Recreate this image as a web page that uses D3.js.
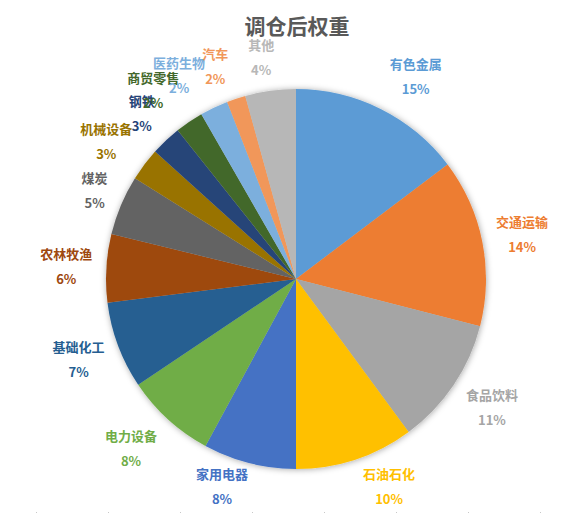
<!DOCTYPE html>
<html>
<head>
<meta charset="utf-8">
<script src="https://cdn.jsdelivr.net/npm/d3@7"></script>
<style>
  body { margin: 0; background: #fff; }
  text { font-family: "Noto Sans CJK SC", "Noto Sans", sans-serif; font-weight: bold; }
</style>
</head>
<body>
<div id="chart"></div>
<script>
// industry weights after rebalancing, clockwise from 12 o'clock
var categories = ["有色金属", "交通运输", "食品饮料", "石油石化", "家用电器", "电力设备", "基础化工",
                  "农林牧渔", "煤炭", "机械设备", "钢铁", "商贸零售", "医药生物", "汽车", "其他"];
var weights = [14.7, 14.3, 10.9, 10.1, 7.9, 7.7, 7.4, 5.8, 5.1, 2.8, 2.6, 2.4, 2.4, 1.6, 4.3];
var colors = ["#5B9BD5", "#ED7D31", "#A5A5A5", "#FFC000", "#4472C4", "#70AD47", "#255E91",
              "#9E480E", "#636363", "#997300", "#264478", "#43682B", "#7CAFDD", "#F1975A", "#B7B7B7"];

var width = 573, height = 514;
var cx = 296, cy = 279, radius = 190;

var svg = d3.select("#chart")
    .append("svg")
        .attr("width", width)
        .attr("height", height);

var defs = svg.append("defs");
var shadow = defs.append("filter")
    .attr("id", "pie-shadow")
    .attr("x", "-20%").attr("y", "-20%")
    .attr("width", "140%").attr("height", "140%");
shadow.append("feDropShadow")
    .attr("dx", 0.5).attr("dy", 0.5)
    .attr("stdDeviation", 3)
    .attr("flood-color", "#000")
    .attr("flood-opacity", 0.35);

// faint sheet gridline ticks at the bottom edge
svg.append("g")
    .selectAll("rect")
    .data(d3.range(36, width, 72))
    .enter()
    .append("rect")
        .attr("x", function(d){ return d; })
        .attr("y", height - 2)
        .attr("width", 1)
        .attr("height", 1)
        .attr("fill", "#c8c8c8");

svg.append("text")
    .attr("x", cx + 1)
    .attr("y", 25)
    .attr("text-anchor", "middle")
    .attr("dominant-baseline", "central")
    .attr("font-size", "21px")
    .attr("fill", "#595959")
    .text("调仓后权重");

var total = d3.sum(weights);
var data = categories.map(function(c, i){
    return { name: c, value: weights[i], color: colors[i] };
});

var pie = d3.pie()
    .sort(null)
    .value(function(d){ return d.value; })
    .startAngle(0)
    .endAngle(2 * Math.PI);

var arc = d3.arc()
    .innerRadius(0)
    .outerRadius(radius);

var arcs = pie(data);

var g = svg.append("g")
    .attr("transform", "translate(" + cx + "," + cy + ")");

g.append("g")
    .attr("filter", "url(#pie-shadow)")
    .selectAll("path")
    .data(arcs)
    .enter()
    .append("path")
        .attr("d", arc)
        .attr("fill", function(d){ return d.data.color; });

// labels sit just outside the rim, box pushed away from the pie
function clamp(v){ return Math.max(-1, Math.min(1, v)); }

var labelR = radius + 9,
    lineGap = 12.5,
    halfH = 24.5;

var labels = svg.append("g")
    .selectAll("g")
    .data(arcs)
    .enter()
    .append("g");

labels.append("text")
    .attr("class", "lbl-name")
    .attr("text-anchor", "middle")
    .attr("dominant-baseline", "central")
    .attr("font-size", "13px")
    .attr("fill", function(d){ return d.data.color; })
    .text(function(d){ return d.data.name; });

labels.append("text")
    .attr("class", "lbl-pct")
    .attr("text-anchor", "middle")
    .attr("dominant-baseline", "central")
    .attr("font-size", "13px")
    .attr("fill", function(d){ return d.data.color; })
    .text(function(d){ return Math.round(d.data.value / total * 100) + "%"; });

labels.each(function(d){
    var sel = d3.select(this);
    var w = Math.max(sel.select(".lbl-name").node().getComputedTextLength(),
                     sel.select(".lbl-pct").node().getComputedTextLength()) + 10;
    var a = (d.startAngle + d.endAngle) / 2;
    var px = cx + labelR * Math.sin(a),
        py = cy - labelR * Math.cos(a);
    var x = px + (w / 2) * clamp(3.3 * Math.sin(a)),
        y = py - halfH * clamp(1.2 * Math.cos(a));
    y = Math.min(y, height - 4 - halfH);
    sel.select(".lbl-name").attr("x", x).attr("y", y - lineGap);
    sel.select(".lbl-pct").attr("x", x).attr("y", y + lineGap);
});
</script>
</body>
</html>
